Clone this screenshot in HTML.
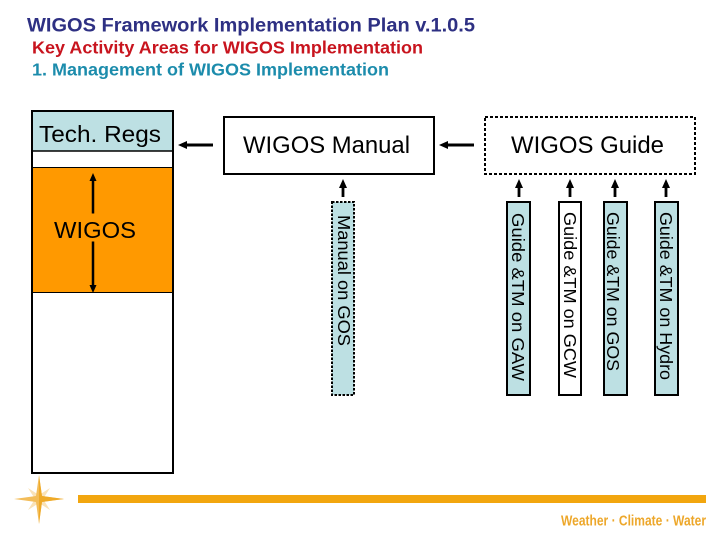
<!DOCTYPE html>
<html>
<head>
<meta charset="utf-8">
<style>
html,body{margin:0;padding:0;background:#fff;}
svg{display:block;}
text{font-family:"Liberation Sans",sans-serif;}
</style>
</head>
<body>
<svg width="720" height="540" viewBox="0 0 720 540" xmlns="http://www.w3.org/2000/svg">
<rect width="720" height="540" fill="#fff"/>

<text x="27" y="31.500" font-size="19.300" font-weight="bold" fill="#2e3083" textLength="448" lengthAdjust="spacingAndGlyphs">WIGOS Framework Implementation Plan v.1.0.5</text>
<text x="32" y="53.500" font-size="17.300" font-weight="bold" fill="#c8141e" textLength="391" lengthAdjust="spacingAndGlyphs">Key Activity Areas for WIGOS Implementation</text>
<text x="32" y="75.500" font-size="17.300" font-weight="bold" fill="#1c8cac" textLength="357" lengthAdjust="spacingAndGlyphs">1. Management of WIGOS Implementation</text>

<!-- Left column -->
<rect x="32" y="111" width="141" height="362" fill="#fff"/>
<rect x="32" y="111" width="141" height="40" fill="#bde0e3"/>
<rect x="32" y="167" width="141" height="125" fill="#ff9900"/>
<line x1="31" y1="151" x2="173" y2="151" stroke="#000" stroke-width="1.5"/>
<line x1="31" y1="167.5" x2="173" y2="167.5" stroke="#000" stroke-width="1"/>
<line x1="31" y1="292.5" x2="173" y2="292.5" stroke="#000" stroke-width="1"/>
<rect x="32" y="111" width="141" height="362" fill="none" stroke="#000" stroke-width="2"/>
<text x="39" y="142" font-size="23" fill="#000" textLength="122" lengthAdjust="spacingAndGlyphs">Tech. Regs</text>
<text x="54" y="238" font-size="23.500" fill="#000" textLength="82" lengthAdjust="spacingAndGlyphs">WIGOS</text>
<path d="M93 213.500 V178 M93 241.500 V288" stroke="#000" stroke-width="2.500" fill="none"/>
<path d="M93 173 L89.500 181 H96.500 Z M93 293 L89.500 285 H96.500 Z" fill="#000"/>

<!-- Top arrows -->
<line x1="213" y1="145" x2="186" y2="145" stroke="#000" stroke-width="3"/>
<path d="M178 145 L187 141 V149 Z" fill="#000"/>
<line x1="474" y1="145" x2="446" y2="145" stroke="#000" stroke-width="3"/>
<path d="M439 145 L448 141 V149 Z" fill="#000"/>

<!-- Main boxes -->
<rect x="224" y="117" width="210" height="57" fill="#fff" stroke="#000" stroke-width="2"/>
<text x="243" y="153" font-size="24" fill="#000" textLength="167" lengthAdjust="spacingAndGlyphs">WIGOS Manual</text>
<rect x="485" y="117" width="210" height="57" fill="#fff" stroke="#000" stroke-width="2" stroke-dasharray="3 2"/>
<text x="511" y="153" font-size="24" fill="#000" textLength="153" lengthAdjust="spacingAndGlyphs">WIGOS Guide</text>

<!-- Up arrows -->
<g stroke="#000" stroke-width="2.800">
<line x1="343" y1="197" x2="343" y2="186"/>
<line x1="519" y1="197" x2="519" y2="186"/>
<line x1="570" y1="197" x2="570" y2="186"/>
<line x1="615" y1="197" x2="615" y2="186"/>
<line x1="666" y1="197" x2="666" y2="186"/>
</g>
<path d="M343 179 L339 188 H347 Z M519 179 L515 188 H523 Z M570 179 L566 188 H574 Z M615 179 L611 188 H619 Z M666 179 L662 188 H670 Z" fill="#000"/>

<!-- Vertical boxes -->
<rect x="332" y="202" width="22" height="193" fill="#bde0e3" stroke="#000" stroke-width="2" stroke-dasharray="2.500 1.500"/>
<rect x="507" y="202" width="23" height="193" fill="#bde0e3" stroke="#000" stroke-width="2"/>
<rect x="559" y="202" width="22" height="193" fill="#fff" stroke="#000" stroke-width="2"/>
<rect x="604" y="202" width="23" height="193" fill="#bde0e3" stroke="#000" stroke-width="2"/>
<rect x="655" y="202" width="23" height="193" fill="#bde0e3" stroke="#000" stroke-width="2"/>

<g font-size="17.500" fill="#000">
<text transform="translate(338,215) rotate(90)" textLength="131" lengthAdjust="spacingAndGlyphs">Manual on GOS</text>
<text transform="translate(512,213) rotate(90)" textLength="168" lengthAdjust="spacingAndGlyphs">Guide &amp;TM on GAW</text>
<text transform="translate(564,212) rotate(90)" textLength="166" lengthAdjust="spacingAndGlyphs">Guide &amp;TM on GCW</text>
<text transform="translate(607,212) rotate(90)" textLength="159" lengthAdjust="spacingAndGlyphs">Guide &amp;TM on GOS</text>
<text transform="translate(660,212) rotate(90)" textLength="168" lengthAdjust="spacingAndGlyphs">Guide &amp;TM on Hydro</text>
</g>

<!-- Star logo -->
<path d="M28 488 L39 495 L50 488 L43 499 L50 510 L39 503 L28 510 L35 499 Z" fill="#f9e2b8"/>
<path d="M39 475 L42 496 L64 499 L42 502 L39 524 L36 502 L14 499 L36 496 Z" fill="#f3bd5a"/>
<path d="M39 475 L39 524 L42 502 L64 499 L42 496 Z" fill="#eda51c" opacity=".8"/>

<!-- Footer -->
<rect x="78" y="495" width="628" height="8" fill="#f2a60f"/>
<text x="561" y="525.500" font-size="14.500" font-weight="bold" fill="#eda72a" textLength="145" lengthAdjust="spacingAndGlyphs">Weather · Climate · Water</text>
</svg>
</body>
</html>
